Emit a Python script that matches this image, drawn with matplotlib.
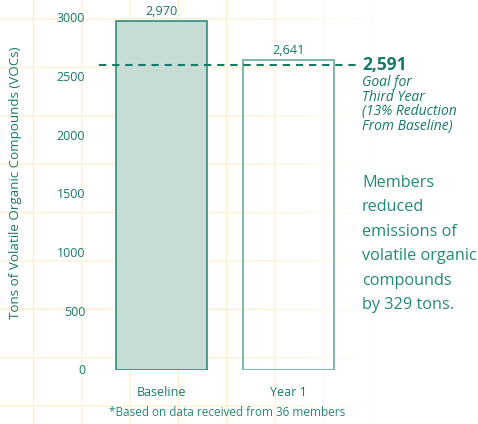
import numpy as np
import matplotlib
matplotlib.use("Agg")
import matplotlib.pyplot as plt

plt.rcParams['font.family'] = ['Open Sans', 'DejaVu Sans']

# Data
categories = ["Baseline", "Year 1"]
tons = [2970, 2641]
value_labels = ["2,970", "2,641"]
goal = 2591
goal_label = "2,591"
yticks = [0, 500, 1000, 1500, 2000, 2500, 3000]

TEAL = "#17796a"
TEAL_TEXT = "#23897a"
FILL = "#c6dcd5"
EDGE_BASE = "#1f8574"
EDGE_Y1 = "#70b2a7"

W, H, DPI = 478, 424, 100
fig = plt.figure(figsize=(W / DPI, H / DPI), dpi=DPI)
fig.patch.set_facecolor("white")

# Graph-paper background that fades out toward the right
bg = fig.add_axes([0, 0, 1, 1], zorder=-10)
bg.set_xlim(0, W)
bg.set_ylim(H, 0)
bg.axis("off")
xs = np.arange(W)
ys = np.arange(H)
X, Y = np.meshgrid(xs, ys)
fade = np.clip((380 - X) / 130.0, 0, 1)
fade = np.where(X < 250, 1.0, fade)
vlines = np.arange(33, 400, 48.3)
hlines = np.arange(18.5, 430, 48.4)
dv = np.min(np.abs(X[..., None] - vlines[None, None, :]), axis=-1)
dh = np.min(np.abs(Y[..., None] - hlines[None, None, :]), axis=-1)
line = np.maximum(np.clip(1.2 - dv, 0, 1), np.clip(1.2 - dh, 0, 1)) * fade
rgba = np.zeros((H, W, 4))
rgba[..., 0] = 253 / 255
rgba[..., 1] = 238 / 255
rgba[..., 2] = 200 / 255
rgba[..., 3] = line * 0.85
bg.imshow(rgba, extent=[0, W, H, 0], interpolation="bilinear", aspect="auto")

# Main chart axes
y0_px, y3000_px = 369.5, 17.5
x_left_px, x_right_px = 99, 358
c0_px, step_px, bar_px = 161.5, 127.0, 91.0
ax = fig.add_axes([x_left_px / W, (H - y0_px) / H,
                   (x_right_px - x_left_px) / W, (y0_px - y3000_px) / H])
ax.set_xlim((x_left_px - c0_px) / step_px, (x_right_px - c0_px) / step_px)
ax.set_ylim(0, 3000)
ax.patch.set_alpha(0)
for s in ax.spines.values():
    s.set_visible(False)

pos = np.arange(len(categories))
width = bar_px / step_px
ax.bar(pos[0], tons[0], width=width, color=FILL, edgecolor=EDGE_BASE, linewidth=1.1, zorder=2)
ax.bar(pos[1], tons[1], width=width, facecolor="none", edgecolor=EDGE_Y1, linewidth=1.3, zorder=2)

for p, v, lab in zip(pos, tons, value_labels):
    ax.annotate(lab, (p, v), xytext=(0, 2), textcoords="offset points",
                ha="center", va="bottom", fontsize=9.2, color=TEAL, clip_on=False)

# Goal line
ax.axhline(goal, color=TEAL, linewidth=1.5, linestyle=(0, (3.5, 2.8)), zorder=3)
ax.annotate(goal_label, (1, goal), xycoords=("axes fraction", "data"),
            xytext=(3, 0), textcoords="offset points",
            ha="left", va="center", fontsize=12.5, fontweight="bold", color=TEAL)
ax.annotate("Goal for\nThird Year\n(13% Reduction\nFrom Baseline)", (1, goal),
            xycoords=("axes fraction", "data"), xytext=(3, -7), textcoords="offset points",
            ha="left", va="top", fontsize=10, style="italic", color=TEAL,
            linespacing=0.95)

ax.set_yticks(yticks)
ax.set_yticklabels([str(t) for t in yticks], fontsize=9, color=TEAL)
ax.set_xticks(pos)
ax.set_xticklabels(categories, fontsize=9, color=TEAL)
ax.tick_params(axis="y", length=0, pad=10)
ax.tick_params(axis="x", length=0, pad=12)

fig.text(16 / W, 1 - 183 / H, "Tons of Volatile Organic Compounds (VOCs)",
         rotation=90, ha="center", va="center", fontsize=9.6, color=TEAL)

fig.text(362 / W, 1 - 175 / H,
         "Members\nreduced\nemissions of\nvolatile organic\ncompounds\nby 329 tons.",
         ha="left", va="top", fontsize=11.7, color=TEAL_TEXT, linespacing=1.7)

fig.text(227 / W, 1 - 412 / H, "*Based on data received from 36 members",
         ha="center", va="center", fontsize=8.5, color=TEAL_TEXT)

fig.savefig("out.png", dpi=DPI, facecolor="white")
